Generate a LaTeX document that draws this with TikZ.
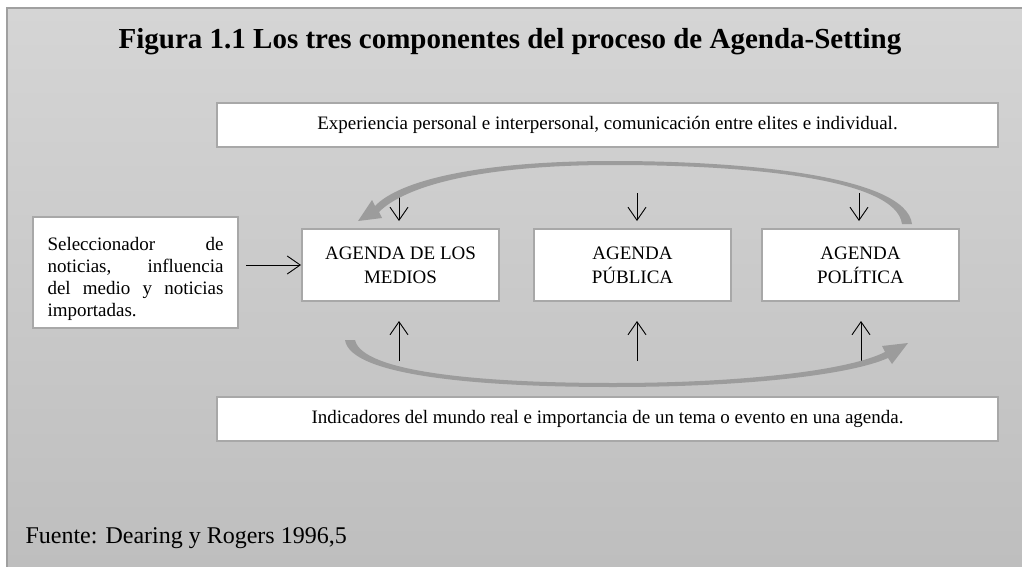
\documentclass[tikz,border=0pt]{standalone}
\usepackage{fontspec}
\setmainfont{Liberation Serif}
\usetikzlibrary{arrows.meta}
\definecolor{bgtop}{HTML}{D5D5D5}
\definecolor{bgbot}{HTML}{BEBEBE}
\definecolor{frameln}{HTML}{A0A0A0}
\definecolor{boxln}{HTML}{A8A8A8}
\definecolor{arcgray}{HTML}{9C9C9C}
\begin{document}
\begin{tikzpicture}[x=1pt,y=-1pt,
  wbox/.style={draw=boxln,line width=2pt,fill=white,inner sep=0pt},
  ag/.style={wbox,minimum width=197pt,minimum height=72pt,align=center,font=\fontsize{19}{24}\selectfont},
  longbox/.style={wbox,minimum width=781pt,minimum height=44pt,font=\fontsize{19}{22}\selectfont},
  thin/.style={-{Straight Barb[length=13pt,width=18pt]},line width=0.9pt},
  arc/.style={fill=arcgray,draw=none}]
\useasboundingbox (0,0) rectangle (1022,567);
\shade[top color=bgtop,bottom color=bgbot] (7,8) rectangle (1022,567);
\draw[frameln,line width=1.5pt] (7,567) -- (7,8) -- (1022,8);

\node[font=\bfseries\fontsize{29}{34}\selectfont] (title) at (510,42) {Figura 1.1 Los tres componentes del proceso de Agenda-Setting};

\node[longbox] (top) at (607.5,125) {Experiencia personal e interpersonal, comunicación entre elites e individual.};
\node[longbox] (bot) at (607.5,418.5) {Indicadores del mundo real e importancia de un tema o evento en una agenda.};

\node[ag] (med) at (400.5,265) {AGENDA DE LOS\\MEDIOS};
\node[ag] (pub) at (632.5,265) {AGENDA\\PÚBLICA};
\node[ag] (pol) at (860.5,265) {AGENDA\\POLÍTICA};

\node[wbox,minimum width=205pt,minimum height=111pt] (sel) at (135.5,272.5) {};
\node[text width=176pt,align=justify,font=\fontsize{19}{22}\selectfont,inner sep=0pt] (seltxt) at ([yshift=-6pt]sel.center) {Seleccionador de\linebreak noticias, influencia\linebreak del medio y noticias\linebreak importadas.};

\coordinate (d1) at (399,193);
\coordinate (d2) at (637,193);
\coordinate (d3) at (859,193);
\draw[thin] (d1) -- ([yshift=7pt]d1 |- med.north);
\draw[thin] (d2) -- ([yshift=7pt]d2 |- pub.north);
\draw[thin] (d3) -- ([yshift=7pt]d3 |- pol.north);

\coordinate (u1) at (399,361);
\coordinate (u2) at (637,361);
\coordinate (u3) at (861,361);
\draw[thin] (u1) -- ([yshift=-19pt]u1 |- med.south);
\draw[thin] (u2) -- ([yshift=-19pt]u2 |- pub.south);
\draw[thin] (u3) -- ([yshift=-19pt]u3 |- pol.south);

\draw[thin] ([xshift=7pt]sel.east |- med.west) -- (med.west);

% top curved block arrow
\path[arc] (912,224) .. controls (906,176) and (745,161) .. (613,161)
  .. controls (480,161) and (400,180) .. (375,206) -- (372,200) -- (358,221) -- (382,218) -- (379,212)
  .. controls (405,186) and (480,165) .. (613,165)
  .. controls (745,165) and (896,178) .. (902,224) -- cycle;
% bottom curved block arrow
\path[arc] (345,340) .. controls (350,376) and (480,387) .. (613,387)
  .. controls (745,387) and (850,375) .. (888,358) -- (892,364) -- (908,343) -- (882,346) -- (885,352)
  .. controls (850,370) and (745,383) .. (613,383)
  .. controls (480,383) and (362,372) .. (355,340) -- cycle;

\node[anchor=base west,font=\fontsize{24}{28}\selectfont] (src) at (22,543) {Fuente: Dearing y Rogers 1996,5};
\end{tikzpicture}
\end{document}
